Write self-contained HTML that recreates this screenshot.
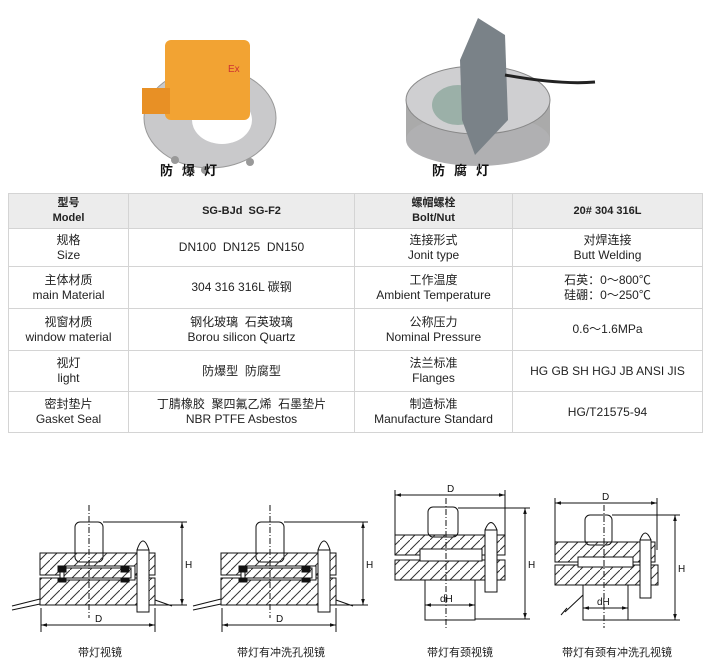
<!DOCTYPE html>
<html><head><meta charset="utf-8"><style>
body{margin:0;width:721px;height:665px;background:#fff;position:relative;overflow:hidden;font-family:"Liberation Sans","Noto Sans CJK SC",sans-serif;}
.t{position:absolute;left:8px;top:193px;border-collapse:collapse;font-size:12px;color:#222;}
.t td{border:1px solid #d4d4d4;text-align:center;padding:0;line-height:15px;}
.t tr.h td{background:#ececec;font-weight:bold;font-size:11px;}
.cap{position:absolute;font-size:13px;font-weight:bold;letter-spacing:9px;color:#111}
.c2{position:absolute;top:644px;font-size:11px;color:#222;transform:translateX(-50%);white-space:nowrap}
</style></head><body>
<svg width="721" height="665" style="position:absolute;left:0;top:0">
<defs>
<pattern id="h" width="10" height="10" patternUnits="userSpaceOnUse"><path d="M0 10 L10 0" stroke="#333" stroke-width="1"/></pattern>
<marker id="a" viewBox="0 0 10 10" refX="10" refY="5" markerWidth="6" markerHeight="6" orient="auto-start-reverse"><path d="M0 2 L10 5 L0 8 Z" fill="#111"/></marker>
</defs>
<!-- photo 1 -->
<ellipse cx="210" cy="118" rx="66" ry="50" fill="#c9c9cb" stroke="#999"/>
<ellipse cx="222" cy="120" rx="30" ry="24" fill="#fff"/>
<rect x="165" y="40" width="85" height="80" rx="6" fill="#f2a333"/>
<rect x="142" y="88" width="28" height="26" fill="#e89025"/>
<circle cx="175" cy="160" r="4" fill="#999"/><circle cx="205" cy="170" r="4" fill="#999"/><circle cx="250" cy="162" r="4" fill="#999"/>
<text x="228" y="72" font-size="10" fill="#c33" font-family="Liberation Sans">Ex</text>
<!-- photo 2 -->
<rect x="406" y="100" width="144" height="40" fill="#aaa"/>
<ellipse cx="478" cy="140" rx="72" ry="26" fill="#b0b0b2"/>
<ellipse cx="478" cy="100" rx="72" ry="34" fill="#cfcfd1" stroke="#888"/>
<ellipse cx="458" cy="105" rx="26" ry="20" fill="#9bb0a8"/>
<path d="M460 60 L478 18 L505 35 L508 120 L475 155 L462 120 Z" fill="#7a8288"/>
<path d="M505 75 Q560 85 595 82" stroke="#222" stroke-width="3" fill="none"/>
<g fill="none" stroke="#111" stroke-width="1">
<g id="d1">
<rect x="75" y="522" width="28" height="40" rx="5" fill="#fff"/>
<rect x="40" y="553" width="115" height="22" fill="url(#h)"/>
<rect x="40" y="578" width="115" height="27" fill="url(#h)"/>
<rect x="60" y="566" width="75" height="14" fill="#fff"/>
<rect x="64" y="568" width="67" height="10" fill="url(#h)"/>
<rect x="58" y="566" width="8" height="6" fill="#111"/><rect x="121" y="566" width="8" height="6" fill="#111"/>
<rect x="58" y="578" width="8" height="4" fill="#111"/><rect x="121" y="578" width="8" height="4" fill="#111"/>
<rect x="137" y="550" width="12" height="62" fill="#fff"/><path d="M137 550 Q143 532 149 550"/>
<line x1="89" y1="505" x2="89" y2="618" stroke-dasharray="6,2,1,2"/>
<line x1="41" y1="608" x2="41" y2="632"/><line x1="155" y1="608" x2="155" y2="632"/>
<line x1="41" y1="625" x2="155" y2="625" marker-start="url(#a)" marker-end="url(#a)"/>
<path d="M12 606 L40 599 M12 610 L40 604 M155 600 L172 606"/>
<line x1="103" y1="522" x2="187" y2="522"/><line x1="155" y1="605" x2="187" y2="605"/>
<line x1="182" y1="522" x2="182" y2="605" marker-start="url(#a)" marker-end="url(#a)"/>
</g>
<use href="#d1" x="181"/>
<!-- D3 -->
<rect x="428" y="507" width="30" height="30" rx="5" fill="#fff"/>
<rect x="395" y="535" width="110" height="20" fill="url(#h)"/>
<rect x="395" y="560" width="110" height="20" fill="url(#h)"/>
<rect x="420" y="549" width="62" height="12" fill="#fff"/>
<rect x="425" y="580" width="50" height="40" fill="#fff"/>
<rect x="485" y="530" width="12" height="62" fill="#fff"/><path d="M485 530 Q491 515 497 530"/>
<line x1="446" y1="498" x2="446" y2="628" stroke-dasharray="6,2,1,2"/>
<line x1="395" y1="490" x2="395" y2="545"/><line x1="505" y1="490" x2="505" y2="545"/>
<line x1="395" y1="495" x2="505" y2="495" marker-start="url(#a)" marker-end="url(#a)"/>
<line x1="425" y1="605" x2="475" y2="605" marker-start="url(#a)" marker-end="url(#a)"/>
<line x1="458" y1="508" x2="530" y2="508"/><line x1="475" y1="619" x2="530" y2="619"/>
<line x1="525" y1="508" x2="525" y2="619" marker-start="url(#a)" marker-end="url(#a)"/>
<!-- D4 -->
<rect x="585" y="515" width="27" height="30" rx="5" fill="#fff"/>
<rect x="555" y="542" width="100" height="20" fill="url(#h)"/>
<rect x="555" y="565" width="103" height="20" fill="url(#h)"/>
<rect x="578" y="557" width="55" height="10" fill="#fff"/>
<rect x="583" y="585" width="45" height="35" fill="#fff"/>
<rect x="640" y="540" width="11" height="58" fill="#fff"/><path d="M640 540 Q645 526 651 540"/>
<path d="M583 595 L565 612 M567 608 L561 615"/>
<line x1="604" y1="505" x2="604" y2="628" stroke-dasharray="6,2,1,2"/>
<line x1="555" y1="498" x2="555" y2="550"/><line x1="657" y1="498" x2="657" y2="550"/>
<line x1="555" y1="503" x2="657" y2="503" marker-start="url(#a)" marker-end="url(#a)"/>
<line x1="583" y1="608" x2="628" y2="608" marker-start="url(#a)" marker-end="url(#a)"/>
<line x1="612" y1="515" x2="680" y2="515"/><line x1="628" y1="620" x2="680" y2="620"/>
<line x1="675" y1="515" x2="675" y2="620" marker-start="url(#a)" marker-end="url(#a)"/>
</g>
<g font-size="10" font-family="Liberation Sans" fill="#111">
<text x="95" y="622">D</text><text x="276" y="622">D</text><text x="447" y="492">D</text><text x="602" y="500">D</text>
<text x="440" y="602">dH</text><text x="597" y="605">dH</text>
<text x="185" y="568">H</text><text x="366" y="568">H</text><text x="528" y="568">H</text><text x="678" y="572">H</text>
</g>
</svg>
<div class="cap" style="left:160px;top:160px">防爆灯</div>
<div class="cap" style="left:432px;top:160px">防腐灯</div>
<table class="t">
<colgroup><col style="width:120px"><col style="width:226px"><col style="width:158px"><col style="width:190px"></colgroup>
<tr class="h" style="height:35px"><td>型号<br>Model</td><td>SG-BJd&nbsp; SG-F2</td><td>螺帽螺栓<br>Bolt/Nut</td><td>20# 304 316L</td></tr>
<tr style="height:38px"><td>规格<br>Size</td><td>DN100&nbsp; DN125&nbsp; DN150</td><td>连接形式<br>Jonit type</td><td>对焊连接<br>Butt Welding</td></tr>
<tr style="height:42px"><td>主体材质<br>main Material</td><td>304 316 316L 碳钢</td><td>工作温度<br>Ambient Temperature</td><td>石英：0～800℃<br>硅硼：0～250℃</td></tr>
<tr style="height:42px"><td>视窗材质<br>window material</td><td>钢化玻璃&nbsp; 石英玻璃<br>Borou silicon Quartz</td><td>公称压力<br>Nominal Pressure</td><td>0.6～1.6MPa</td></tr>
<tr style="height:41px"><td>视灯<br>light</td><td>防爆型&nbsp; 防腐型</td><td>法兰标准<br>Flanges</td><td>HG GB SH HGJ JB ANSI JIS</td></tr>
<tr style="height:41px"><td>密封垫片<br>Gasket Seal</td><td>丁腈橡胶&nbsp; 聚四氟乙烯&nbsp; 石墨垫片<br>NBR PTFE Asbestos</td><td>制造标准<br>Manufacture Standard</td><td>HG/T21575-94</td></tr>
</table>
<div class="c2" style="left:100px">带灯视镜</div>
<div class="c2" style="left:281px">带灯有冲洗孔视镜</div>
<div class="c2" style="left:460px">带灯有颈视镜</div>
<div class="c2" style="left:617px">带灯有颈有冲洗孔视镜</div>
</body></html>
